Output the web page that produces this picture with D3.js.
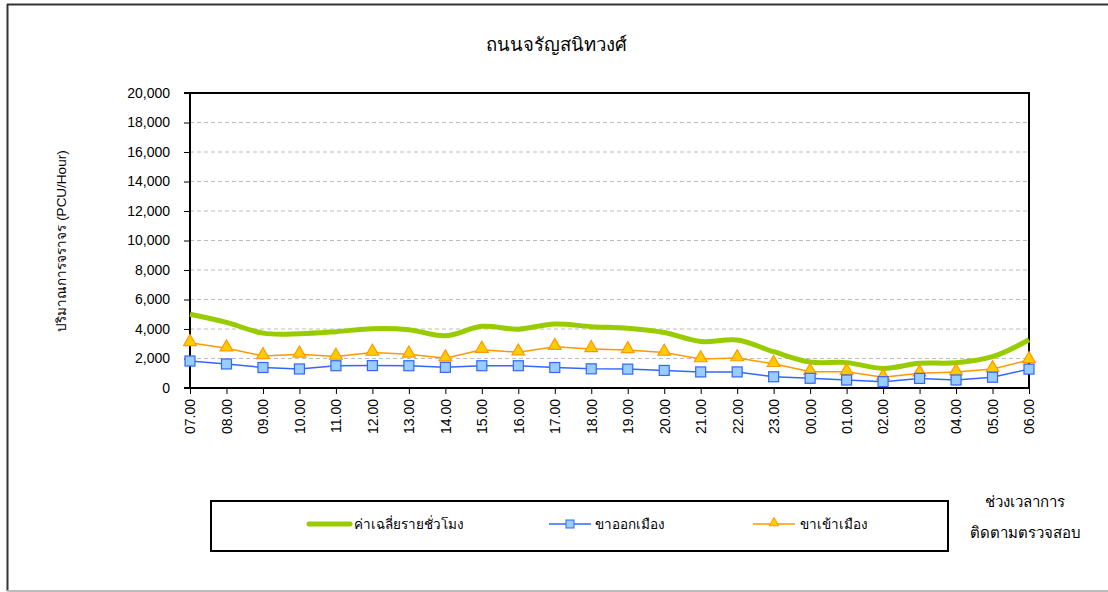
<!DOCTYPE html>
<html>
<head>
<meta charset="utf-8">
<script src="https://cdn.jsdelivr.net/npm/d3@7"></script>
<style>
  body { margin: 0; background: #fff; }
  text { font-family: Arial, "Liberation Sans", "Noto Sans", sans-serif; fill: #000; }
</style>
</head>
<body>
<svg id="chart" width="1108" height="592"></svg>
<script>
// Data (PCU/Hour)
const hours = ['07.00','08.00','09.00','10.00','11.00','12.00','13.00','14.00','15.00','16.00','17.00','18.00',
  '19.00','20.00','21.00','22.00','23.00','00.00','01.00','02.00','03.00','04.00','05.00','06.00'];
const average = [5000,4450,3720,3680,3820,4020,3950,3540,4180,3990,4340,4160,
  4050,3760,3150,3250,2460,1760,1720,1330,1670,1710,2120,3270];
const outbound = [1830,1630,1390,1290,1510,1520,1510,1400,1510,1510,1390,1300,
  1280,1190,1090,1090,760,660,540,430,650,540,730,1280];
const inbound = [3060,2700,2170,2280,2130,2400,2280,2020,2600,2420,2800,2650,
  2580,2400,1960,2030,1640,1100,1100,730,1000,1080,1290,1900];
const yTicks = [0,2000,4000,6000,8000,10000,12000,14000,16000,18000,20000];

const svg = d3.select('#chart');
const plotLeft = 190, plotRight = 1029, plotTop = 93, plotBottom = 388;

// Outer frame
svg.append('line').attr('x1', 7.5).attr('x2', 7.5).attr('y1', 4).attr('y2', 591).attr('stroke', '#333').attr('stroke-width', 2);
svg.append('line').attr('x1', 7).attr('x2', 1108).attr('y1', 4.5).attr('y2', 4.5).attr('stroke', '#333').attr('stroke-width', 2);
svg.append('line').attr('x1', 7).attr('x2', 1108).attr('y1', 591).attr('y2', 591).attr('stroke', '#bbb').attr('stroke-width', 2);

// Scales
const x = d3.scalePoint().domain(hours).range([plotLeft, plotRight]);
const y = d3.scaleLinear().domain([0, 20000]).range([plotBottom, plotTop]);

// Title
svg.append('text').attr('x', 556).attr('y', 51).attr('text-anchor', 'middle')
  .style('font-size', '18.5px').text('ถนนจรัญสนิทวงศ์');

// Gridlines
svg.append('g').selectAll('line')
  .data(yTicks.filter(d => d > 0 && d < 20000))
  .join('line')
  .attr('x1', plotLeft).attr('x2', plotRight)
  .attr('y1', d => y(d)).attr('y2', d => y(d))
  .attr('stroke', '#bdbdbd').attr('stroke-dasharray', '4,3');

// Y axis
const yAxis = svg.append('g').attr('transform', `translate(${plotLeft},0)`)
  .call(d3.axisLeft(y).tickValues(yTicks).tickSize(6).tickPadding(14).tickFormat(d3.format(',')));
yAxis.select('.domain').remove();
yAxis.selectAll('line').attr('stroke', '#000');
yAxis.selectAll('text').style('font-size', '14px');

// X axis
const xAxis = svg.append('g').attr('transform', `translate(0,${plotBottom})`)
  .call(d3.axisBottom(x).tickSize(6).tickSizeOuter(0));
xAxis.select('.domain').remove();
xAxis.selectAll('line').attr('stroke', '#000');
xAxis.selectAll('text')
  .style('font-size', '14px')
  .attr('transform', 'rotate(-90)')
  .attr('text-anchor', 'end')
  .attr('x', -11).attr('y', 0).attr('dy', '0.35em');

// Plot frame
svg.append('line').attr('x1', plotLeft).attr('x2', plotLeft).attr('y1', plotTop).attr('y2', plotBottom).attr('stroke', '#000').attr('stroke-width', 2);
svg.append('line').attr('x1', plotRight).attr('x2', plotRight).attr('y1', plotTop).attr('y2', plotBottom).attr('stroke', '#000').attr('stroke-width', 2);
svg.append('line').attr('x1', plotLeft - 6).attr('x2', plotRight + 1).attr('y1', plotTop).attr('y2', plotTop).attr('stroke', '#000').attr('stroke-width', 2);
svg.append('line').attr('x1', plotLeft - 6).attr('x2', plotRight + 1).attr('y1', plotBottom).attr('y2', plotBottom).attr('stroke', '#000').attr('stroke-width', 2);

// Y label
svg.append('text').attr('transform', 'translate(66,241) rotate(-90)').attr('text-anchor', 'middle')
  .style('font-size', '13.5px').text('ปริมาณการจราจร (PCU/Hour)');

// Lines
const greenC = '#99cc00', blueC = '#3366ff', orangeC = '#ff9900';
const smooth = d3.line().x((d, i) => x(hours[i])).y(d => y(d)).curve(d3.curveCatmullRom.alpha(0.5));
const straight = d3.line().x((d, i) => x(hours[i])).y(d => y(d));

svg.append('path').attr('d', smooth(average)).attr('fill', 'none').attr('stroke', greenC).attr('stroke-width', 5).attr('stroke-linejoin', 'round');
svg.append('path').attr('d', straight(inbound)).attr('fill', 'none').attr('stroke', orangeC).attr('stroke-width', 1.5);
svg.append('path').attr('d', straight(outbound)).attr('fill', 'none').attr('stroke', blueC).attr('stroke-width', 1.5);

const tri = d3.symbol().type(d3.symbolTriangle).size(70);
svg.append('g').selectAll('path').data(inbound).join('path')
  .attr('d', tri).attr('transform', (d, i) => `translate(${x(hours[i])},${y(d) - 1})`)
  .attr('fill', '#ffcc00').attr('stroke', orangeC).attr('stroke-width', 1.2);

svg.append('g').selectAll('rect').data(outbound).join('rect')
  .attr('x', (d, i) => x(hours[i]) - 5).attr('y', d => y(d) - 5)
  .attr('width', 10).attr('height', 10)
  .attr('fill', '#99ccff').attr('stroke', blueC).attr('stroke-width', 1.2);

// Legend
svg.append('rect').attr('x', 211).attr('y', 501).attr('width', 737).attr('height', 50)
  .attr('fill', 'none').attr('stroke', '#000').attr('stroke-width', 2);
const ly = 524;
svg.append('line').attr('x1', 309).attr('x2', 350).attr('y1', ly).attr('y2', ly).attr('stroke', greenC).attr('stroke-width', 5).attr('stroke-linecap', 'round');
svg.append('text').attr('x', 354).attr('y', ly + 5).style('font-size', '13.5px').text('ค่าเฉลี่ยรายชั่วโมง');
svg.append('line').attr('x1', 549).attr('x2', 591).attr('y1', ly).attr('y2', ly).attr('stroke', blueC).attr('stroke-width', 1.5);
svg.append('rect').attr('x', 566).attr('y', ly - 4).attr('width', 8).attr('height', 8).attr('fill', '#99ccff').attr('stroke', blueC);
svg.append('text').attr('x', 595).attr('y', ly + 5).style('font-size', '13.5px').text('ขาออกเมือง');
svg.append('line').attr('x1', 753).attr('x2', 795).attr('y1', ly).attr('y2', ly).attr('stroke', orangeC).attr('stroke-width', 1.5);
svg.append('path').attr('d', d3.symbol().type(d3.symbolTriangle).size(40)).attr('transform', `translate(774,${ly - 1})`)
  .attr('fill', '#ffcc00').attr('stroke', orangeC);
svg.append('text').attr('x', 800).attr('y', ly + 5).style('font-size', '13.5px').text('ขาเข้าเมือง');

// X axis title
svg.append('text').attr('x', 1025).attr('y', 507).attr('text-anchor', 'middle').style('font-size', '15px').text('ช่วงเวลาการ');
svg.append('text').attr('x', 1025).attr('y', 538).attr('text-anchor', 'middle').style('font-size', '15px').text('ติดตามตรวจสอบ');
</script>
</body>
</html>
